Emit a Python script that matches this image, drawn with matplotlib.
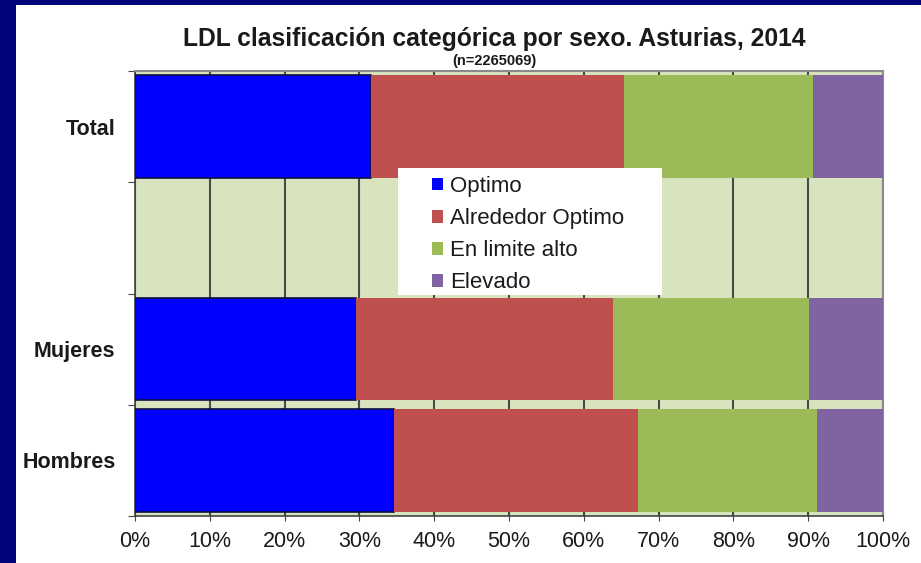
import matplotlib
matplotlib.use("Agg")
import matplotlib.pyplot as plt
from matplotlib.patches import Rectangle
import numpy as np

plt.rcParams['font.family'] = ['Liberation Sans', 'DejaVu Sans']

categories = ["Total", "", "Mujeres", "Hombres"]
series_names = ["Optimo", "Alrededor Optimo", "En limite alto", "Elevado"]
optimo = [31.6, 0, 29.5, 34.6]
alrededor = [33.8, 0, 34.4, 32.6]
limite_alto = [25.2, 0, 26.2, 24.0]
elevado = [9.4, 0, 9.9, 8.8]
colors = ["#0000ff", "#c0504d", "#9bbb59", "#8064a2"]
xticks = [0, 10, 20, 30, 40, 50, 60, 70, 80, 90, 100]
xtick_labels = [f"{v}%" for v in xticks]

fig = plt.figure(figsize=(9.21, 5.63), dpi=100)
fig.patch.set_facecolor("#03037a")
fig.add_artist(Rectangle((16/921, 0), 1 - 16/921, 1 - 5/563, transform=fig.transFigure,
                         facecolor="white", edgecolor="none", zorder=0))

ax = fig.add_axes([135/921, 1 - 516/563, (883 - 135)/921, (516 - 71)/563])
ax.set_facecolor("#d7e4bd")
ax.set_zorder(1)

y = np.arange(len(categories))
left = np.zeros(len(categories))
series = [optimo, alrededor, limite_alto, elevado]
for name, vals, col in zip(series_names, series, colors):
    vals = np.array(vals, dtype=float)
    mask = vals > 0
    kw = dict(edgecolor="#101040", linewidth=1.2) if name == "Optimo" else dict(edgecolor="none", linewidth=0)
    ax.barh(y[mask], vals[mask], left=left[mask], height=0.92, color=col, label=name, zorder=3, **kw)
    left += vals

ax.set_xlim(0, 100)
ax.set_ylim(3.5, -0.5)
ax.set_xticks(xticks)
ax.set_xticklabels(xtick_labels, fontsize=15.5, color="#1a1a1a")
ax.xaxis.grid(True, color="#4a4a4a", linewidth=1.5, zorder=1)
ax.set_axisbelow(True)

ax.set_yticks(np.arange(-0.5, 4, 1.0))
ax.set_yticklabels([])
ax.set_yticks(y, minor=True)
ax.set_yticklabels(categories, minor=True, fontsize=15.5, fontweight="bold", color="#1a1a1a")
ax.tick_params(axis="y", which="minor", length=0, pad=14)
ax.tick_params(axis="y", which="major", length=5, color="#444444", direction="out")
ax.tick_params(axis="x", length=7, color="#444444", direction="inout", pad=7)

for s in ["left", "bottom"]:
    ax.spines[s].set_color("#444444")
    ax.spines[s].set_linewidth(1.2)
for s in ["top", "right"]:
    ax.spines[s].set_color("#8a8a8a")
    ax.spines[s].set_linewidth(1.5)

# legend background box
ax.add_patch(Rectangle((398/921, 1 - 295/563), (662 - 398)/921, (295 - 168)/563,
                       transform=fig.transFigure, facecolor="white", edgecolor="none",
                       zorder=4, clip_on=False))
leg = ax.legend(loc="upper left", bbox_to_anchor=(432/921, 1 - 176/563), bbox_transform=fig.transFigure,
                frameon=False, fontsize=16, handlelength=0.5, handleheight=0.5, handletextpad=0.3,
                labelspacing=0.5, borderpad=0, borderaxespad=0)
leg.set_zorder(5)
for h in leg.legend_handles:
    h.set_edgecolor("none")
for t in leg.get_texts():
    t.set_color("#1a1a1a")

fig.text(494/921, 1 - 39/563, "LDL clasificación categórica por sexo. Asturias, 2014",
         ha="center", va="center", fontsize=17.7, fontweight="bold", color="#1a1a1a")
fig.text(494/921, 1 - 61/563, "(n=2265069)", ha="center", va="center", fontsize=10.5,
         fontweight="bold", color="#1a1a1a")

fig.savefig("out.png", dpi=100, facecolor=fig.get_facecolor())
